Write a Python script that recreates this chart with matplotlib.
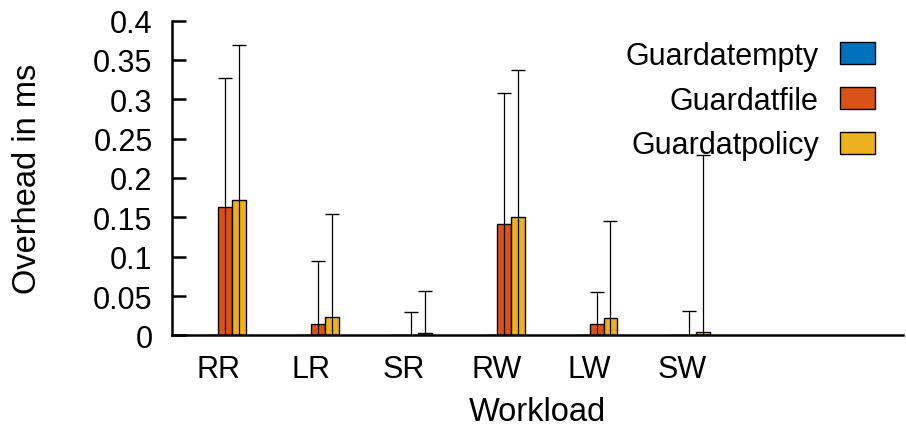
import matplotlib
matplotlib.use("Agg")
import matplotlib.pyplot as plt
import numpy as np

plt.rcParams["font.family"] = ["Liberation Sans", "DejaVu Sans"]
plt.rcParams["font.size"] = 22

# donnees
workloads = ["RR", "LR", "SR", "RW", "LW", "SW"]
series = ["Guardatempty", "Guardatfile", "Guardatpolicy"]
empty_mean = [0, 0, 0, 0, 0, 0]
empty_err = [0, 0, 0, 0, 0, 0]
file_mean = [0.163, 0.014, 0.0, 0.141, 0.014, 0.0]
file_err = [0.1645, 0.080, 0.030, 0.1675, 0.0414, 0.031]
policy_mean = [0.172, 0.024, 0.003, 0.150, 0.022, 0.004]
policy_err = [0.197, 0.130, 0.054, 0.187, 0.124, 0.225]

colors = ["#0072BD", "#D95319", "#EDB120"]


def main():
    fig = plt.figure(figsize=(9.06, 4.27), dpi=100)
    ax = fig.add_axes([0.1898, 0.212, 0.8069, 0.7376])

    x = np.arange(len(workloads))
    w = 0.15
    means = [empty_mean, file_mean, policy_mean]
    errs = [empty_err, file_err, policy_err]

    for k in range(3):
        pos = x + (k - 1) * w
        ax.bar(pos, means[k], width=w, align="edge", color=colors[k],
               edgecolor="black", linewidth=1.0, label=series[k], zorder=2)
        if any(errs[k]):
            ax.errorbar(pos + w / 2, means[k], yerr=errs[k], fmt="none",
                        ecolor="black", elinewidth=0.9, capsize=5,
                        capthick=1.0, zorder=3)

    ax.set_xlim(-0.5, 7.377)
    ax.set_ylim(0, 0.4)
    ax.set_yticks(np.arange(0, 0.401, 0.05))
    ax.set_yticklabels(["0", "0.05", "0.1", "0.15", "0.2", "0.25", "0.3", "0.35", "0.4"])
    ax.set_xticks(x)
    ax.set_xticklabels(workloads)

    ax.spines["top"].set_visible(False)
    ax.spines["right"].set_visible(False)
    for s in ["left", "bottom"]:
        ax.spines[s].set_linewidth(1.8)
    ax.tick_params(axis="y", direction="in", length=10, width=1.8, pad=14)
    ax.tick_params(axis="x", length=0, pad=13)

    ax.set_xlabel("Workload", fontsize=23.5, labelpad=9)
    ax.set_ylabel("Overhead in ms", fontsize=23.5, labelpad=36)

    ax.legend(loc="upper right", bbox_to_anchor=(875 / 906, 1 - 42 / 427),
              bbox_transform=fig.transFigure, frameon=False, markerfirst=False,
              handlelength=1.14, handleheight=0.74, handletextpad=0.7,
              labelspacing=0.48, borderpad=0, borderaxespad=0)

    fig.savefig("out.png", dpi=100)
    plt.close(fig)


if __name__ == "__main__":
    main()
